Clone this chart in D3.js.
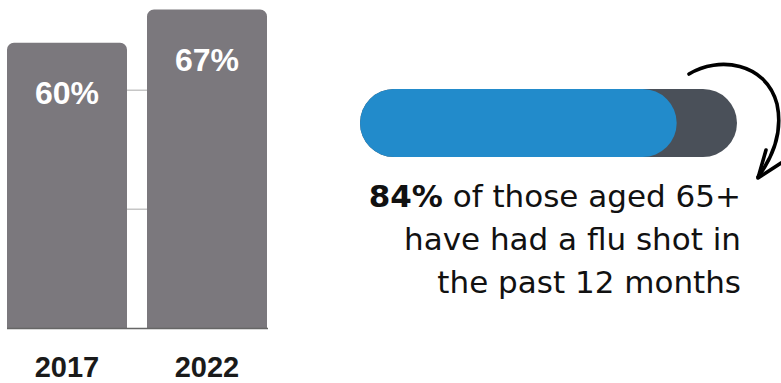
<!DOCTYPE html>
<html>
<head>
<meta charset="utf-8">
<script src="https://cdn.jsdelivr.net/npm/d3@7/dist/d3.min.js"></script>
<style>
html,body{margin:0;padding:0;background:#fff;}
svg{display:block;}
</style>
</head>
<body>
<svg id="chart" width="781" height="383"></svg>
<script>
// ---- data ----
const years = ["2017", "2022"];
const shares = [60, 67];
const barLabels = ["60%", "67%"];
const gridTicks = [25, 50];
const fluShotShare = 84;
const captionLines = ["of those aged 65+", "have had a flu shot in", "the past 12 months"];
const captionBold = "84%";

const svg = d3.select("#chart");

// ---- bar chart ----
const x = d3.scaleBand().domain(years).range([7, 267]).paddingInner(1/7).paddingOuter(0);
const y = d3.scaleLinear().domain([0, 69]).range([328, 0]);

svg.append("g").selectAll("line").data(gridTicks).join("line")
  .attr("x1", 7).attr("x2", 267)
  .attr("y1", d => y(d)).attr("y2", d => y(d))
  .attr("stroke", "#c6c6c6").attr("stroke-width", 1.5);

function topRounded(x0, y0, w, h, r) {
  const p = d3.path();
  p.moveTo(x0, y0 + h);
  p.lineTo(x0, y0 + r);
  p.arcTo(x0, y0, x0 + r, y0, r);
  p.lineTo(x0 + w - r, y0);
  p.arcTo(x0 + w, y0, x0 + w, y0 + r, r);
  p.lineTo(x0 + w, y0 + h);
  p.closePath();
  return p.toString();
}

const rows = years.map((yr, i) => ({yr, v: shares[i], label: barLabels[i]}));

svg.append("g").selectAll("path").data(rows).join("path")
  .attr("d", d => topRounded(x(d.yr), y(d.v), x.bandwidth(), y(0) - y(d.v), 7))
  .attr("fill", "#7b787d");

svg.append("line")
  .attr("x1", 7).attr("x2", 268).attr("y1", y(0) + 0.5).attr("y2", y(0) + 0.5)
  .attr("stroke", "#666").attr("stroke-width", 1.5);

svg.append("g").selectAll("text").data(rows).join("text")
  .attr("x", d => x(d.yr) + x.bandwidth() / 2)
  .attr("y", d => y(d.v) + 61)
  .attr("text-anchor", "middle")
  .attr("fill", "#fff")
  .attr("font-family", "'Liberation Sans', Arial, sans-serif")
  .attr("font-weight", "bold")
  .attr("font-size", 32)
  .text(d => d.label);

svg.append("g").selectAll("text").data(rows).join("text")
  .attr("x", d => x(d.yr) + x.bandwidth() / 2)
  .attr("y", 377)
  .attr("text-anchor", "middle")
  .attr("fill", "#1a1a1a")
  .attr("font-family", "'Liberation Sans', Arial, sans-serif")
  .attr("font-weight", "bold")
  .attr("font-size", 29)
  .text(d => d.yr);

// ---- progress pill ----
const px = d3.scaleLinear().domain([0, 100]).range([360, 737]);
const pillY = 89, pillH = 68;
svg.append("rect")
  .attr("x", px(0)).attr("y", pillY)
  .attr("width", px(100) - px(0)).attr("height", pillH)
  .attr("rx", pillH / 2).attr("fill", "#4a5059");
svg.append("rect")
  .attr("x", px(0)).attr("y", pillY)
  .attr("width", px(fluShotShare) - px(0)).attr("height", pillH)
  .attr("rx", pillH / 2).attr("fill", "#228bcb");

// ---- arrow ----
svg.append("path")
  .attr("d", "M689,74 C718,56 766,62 777,104 C783,132 772,158 758,177")
  .attr("fill", "none").attr("stroke", "#000").attr("stroke-width", 3.6).attr("stroke-linecap", "round");
svg.append("path")
  .attr("d", "M766,150 L758,178 L781,163")
  .attr("fill", "none").attr("stroke", "#000").attr("stroke-width", 3.6)
  .attr("stroke-linecap", "round").attr("stroke-linejoin", "round");

// ---- caption ----
const cap = svg.append("g")
  .attr("font-family", "'DejaVu Sans', sans-serif")
  .attr("font-size", 31)
  .attr("fill", "#111")
  .attr("text-anchor", "end");
const baselines = [207, 250, 293];
const t0 = cap.append("text").attr("x", 741).attr("y", baselines[0]);
t0.append("tspan").attr("font-weight", "bold").text(captionBold);
t0.append("tspan").text(" " + captionLines[0]);
captionLines.slice(1).forEach((ln, i) => {
  cap.append("text").attr("x", 741).attr("y", baselines[i + 1]).text(ln);
});
</script>
</body>
</html>
